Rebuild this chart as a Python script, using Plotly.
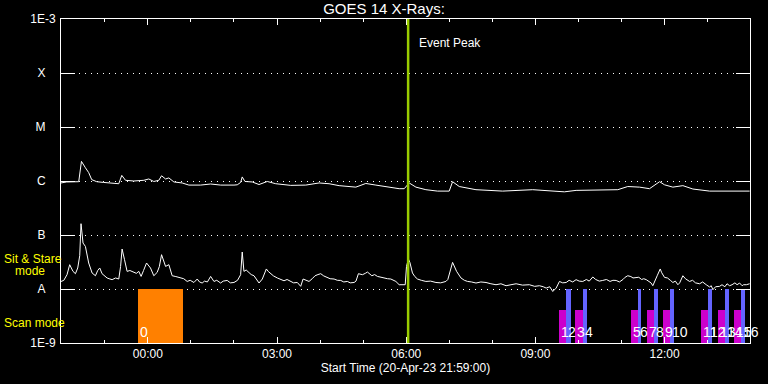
import pandas as pd
import plotly.graph_objects as go

# ---------------- data ----------------
START = pd.Timestamp("2023-04-20 21:59:00")
END = START + pd.Timedelta(hours=16)

# long channel (1-8 A), minutes after start time
long_minutes = [0, 8, 24.7, 28.5, 34, 38.6, 42.8, 49.8, 59.6, 70.7, 80.5, 84.7, 89.9, 101.4,
                115.4, 122.3, 129.3, 136.3, 140.1, 145.7, 150.3, 157.3, 168.8, 178.2, 194.5,
                208.5, 222.4, 241, 245.6, 250.3, 252.5, 256.3, 266.5, 275.9, 287.4, 299.2,
                320.1, 341, 359.6, 373.5, 387.5, 410.8, 424.7, 438.7, 454.9, 471.2, 478.2,
                485.2, 494.5, 508.4, 524.6, 540.9, 545.6, 554.9, 578.2, 615.3, 657.2, 701.4,
                717.7, 759.6, 775.8, 789.7, 806.1, 820, 834, 840.9, 852.5, 866.5, 880.4,
                903.7, 959.5]
long_flux = [9.2e-7, 9.6e-7, 9.7e-7, 2.31e-6, 1.76e-6, 1.43e-6, 1.06e-6, 9.7e-7, 9.4e-7, 9.2e-7,
             8.9e-7, 1.27e-6, 1.03e-6, 1.0e-6, 1.03e-6, 1.09e-6, 9.8e-7, 1.03e-6, 1.25e-6,
             1.09e-6, 1.14e-6, 9.6e-7, 9.2e-7, 8.4e-7, 8.4e-7, 8.8e-7, 8.4e-7, 8.4e-7, 8.5e-7,
             9.4e-7, 1.19e-6, 9.8e-7, 9.6e-7, 8.6e-7, 9.8e-7, 8.9e-7, 8.3e-7, 8.4e-7, 9.2e-7,
             8.9e-7, 8.2e-7, 7.7e-7, 9.0e-7, 8.4e-7, 7.7e-7, 7.2e-7, 7.2e-7, 9.2e-7, 7.7e-7,
             6.9e-7, 6.5e-7, 6.5e-7, 9.7e-7, 7.9e-7, 6.9e-7, 6.5e-7, 6.9e-7, 6.3e-7, 6.7e-7,
             6.9e-7, 6.9e-7, 7.9e-7, 7.7e-7, 7.2e-7, 9.7e-7, 8.5e-7, 7.7e-7, 8.2e-7, 7.1e-7,
             6.5e-7, 6.5e-7]

# short channel (0.5-4 A), minutes after start time
short_minutes = [0, 3.8, 8.4, 12.1, 16.7, 20.1, 23.3, 26.1, 27.9, 29.3, 30.7, 34, 38.6, 43.3, 48,
                 51.2, 54, 57.2, 60.5, 64.2, 67, 71.2, 76, 80.5, 83, 85.1, 88.5, 92.1, 96, 101.4,
                 105, 108.4, 111.6, 115, 119.2, 124.7, 129.3, 134, 137, 140.1, 145.7, 150.3,
                 154.9, 160, 166.6, 171, 175.8, 180, 185.2, 189.8, 193, 196.7, 200, 204, 208.5,
                 213.1, 217, 222.4, 226, 231.6, 236, 241, 246, 250.3, 252.5, 254.9, 258, 261.9,
                 265, 268.9, 272, 275.9, 280.5, 283, 286.1, 289, 292.2, 296, 301.4, 306, 310.7,
                 315, 320.1, 324, 329.3, 334, 337.3, 341, 345.6, 350, 354, 358, 361.9, 366,
                 371.1, 375, 380.5, 385, 389.8, 394, 399, 403, 408.4, 411, 414.4, 420, 424, 427,
                 433.1, 437, 440.9, 445, 450.3, 455, 459.6, 463, 466.6, 471.2, 479.6, 481.4, 484,
                 486.1, 489.7, 493, 496.7, 502, 508.4, 515, 522.4, 529, 536.3, 539, 541.9,
                 545.6, 551.2, 557.3, 562, 566.5, 572, 578.2, 585, 592.2, 599, 606.1, 613,
                 620.1, 627, 634.1, 643, 652.6, 660, 666.6, 672, 676, 681, 685.2, 689.9, 692,
                 694.5, 699, 703.9, 708, 713, 717.7, 722, 727, 732, 736, 741, 745, 750, 754.8,
                 760, 765, 769, 773.5, 778, 783, 786, 789.7, 794, 797, 801.5, 805, 809, 812,
                 815.4, 819, 822, 824.6, 828, 831, 834.9, 837, 840.9, 845, 849, 852.5, 856,
                 859.5, 862, 866.5, 870, 875.8, 880, 884, 889.8, 894, 899, 903.7, 906, 908.3,
                 912, 917.6, 921, 925, 928, 931.6, 935, 939, 942, 945.5, 949, 951, 954.9, 959.5]
short_flux = [1.38e-8, 1.44e-8, 1.84e-8, 2.82e-8, 2.12e-8, 1.92e-8, 2.45e-8, 4.14e-8, 1.62e-7,
              1.1e-7, 7.1e-8, 6.15e-8, 3.03e-8, 1.98e-8, 1.76e-8, 2.21e-8, 2.45e-8, 1.92e-8,
              1.75e-8, 1.6e-8, 1.55e-8, 1.49e-8, 1.6e-8, 1.53e-8, 2.6e-8, 5.5e-8, 3.49e-8,
              2.12e-8, 2.2e-8, 2.03e-8, 1.95e-8, 2.12e-8, 1.71e-8, 2.2e-8, 3.03e-8, 2.45e-8,
              1.76e-8, 2.03e-8, 2.6e-8, 4.32e-8, 2.62e-8, 2.82e-8, 1.76e-8, 1.7e-8, 1.6e-8,
              1.55e-8, 1.38e-8, 1.45e-8, 1.32e-8, 1.53e-8, 1.35e-8, 1.29e-8, 1.4e-8, 1.35e-8,
              1.71e-8, 1.38e-8, 1.45e-8, 1.29e-8, 1.4e-8, 1.44e-8, 1.3e-8, 1.32e-8, 1.45e-8,
              1.84e-8, 4.84e-8, 2.12e-8, 2.25e-8, 1.98e-8, 1.85e-8, 1.76e-8, 1.5e-8, 1.29e-8,
              1.53e-8, 1.8e-8, 2.35e-8, 2.1e-8, 1.92e-8, 1.75e-8, 1.6e-8, 1.5e-8, 1.42e-8,
              1.5e-8, 1.38e-8, 1.3e-8, 1.32e-8, 1.12e-8, 1.53e-8, 1.45e-8, 1.38e-8, 1.55e-8,
              1.76e-8, 1.85e-8, 1.92e-8, 1.75e-8, 1.64e-8, 1.55e-8, 1.53e-8, 1.45e-8, 1.44e-8,
              1.35e-8, 1.38e-8, 1.3e-8, 1.32e-8, 1.4e-8, 1.92e-8, 1.84e-8, 1.95e-8, 2.06e-8,
              1.76e-8, 1.85e-8, 1.71e-8, 1.65e-8, 1.6e-8, 1.55e-8, 1.53e-8, 1.45e-8, 1.38e-8,
              1.2e-8, 1.2e-8, 2.62e-8, 3.6e-8, 3.11e-8, 1.98e-8, 1.7e-8, 1.53e-8, 1.45e-8,
              1.38e-8, 1.4e-8, 1.32e-8, 1.3e-8, 1.38e-8, 1.5e-8, 1.98e-8, 3.11e-8, 2.12e-8,
              1.6e-8, 1.45e-8, 1.38e-8, 1.35e-8, 1.29e-8, 1.35e-8, 1.32e-8, 1.25e-8, 1.2e-8,
              1.25e-8, 1.15e-8, 1.2e-8, 1.25e-8, 1.18e-8, 1.2e-8, 1.12e-8, 1.15e-8, 1.1e-8,
              1.04e-8, 1.1e-8, 9.0e-9, 1.04e-8, 1.2e-8, 1.38e-8, 1.3e-8, 1.32e-8, 1.45e-8,
              1.35e-8, 1.49e-8, 1.4e-8, 1.38e-8, 1.5e-8, 1.4e-8, 1.67e-8, 1.5e-8, 1.4e-8,
              1.44e-8, 1.5e-8, 1.38e-8, 1.45e-8, 1.44e-8, 1.35e-8, 1.5e-8, 1.65e-8, 1.76e-8,
              1.7e-8, 1.6e-8, 1.6e-8, 1.65e-8, 1.5e-8, 1.55e-8, 1.49e-8, 1.4e-8, 1.3e-8,
              1.15e-8, 1.5e-8, 1.8e-8, 2.35e-8, 2.0e-8, 1.64e-8, 1.6e-8, 1.45e-8, 1.32e-8,
              1.4e-8, 1.2e-8, 1.3e-8, 1.76e-8, 1.55e-8, 1.38e-8, 1.45e-8, 1.3e-8, 1.25e-8,
              1.35e-8, 1.2e-8, 1.09e-8, 1.15e-8, 9.7e-9, 1.1e-8, 1.12e-8, 1.2e-8, 1.1e-8,
              1.25e-8, 1.15e-8, 1.2e-8, 1.3e-8, 1.2e-8, 1.29e-8, 1.15e-8, 1.2e-8, 1.2e-8,
              1.25e-8]

# y-axis ticks (GOES classes)
y_tickvals = [1e-9, 1e-8, 1e-7, 1e-6, 1e-5, 1e-4, 1e-3]
y_ticktext = ["1E-9", "A", "B", "C", "M", "X", "1E-3"]

# observation scans
scan_labels = [str(i) for i in range(17)]
scan_kind = ["stare"] + ["raster", "sit"] * 8
scan_start = ["2023-04-20 23:46:00",
              "2023-04-21 09:33:30", "2023-04-21 09:43:12",
              "2023-04-21 09:55:48", "2023-04-21 10:06:36",
              "2023-04-21 11:12:30", "2023-04-21 11:22:18",
              "2023-04-21 11:34:48", "2023-04-21 11:45:48",
              "2023-04-21 11:58:12", "2023-04-21 12:08:00",
              "2023-04-21 12:50:12", "2023-04-21 13:00:42",
              "2023-04-21 13:13:54", "2023-04-21 13:23:42",
              "2023-04-21 13:36:12", "2023-04-21 13:46:54"]
scan_end = ["2023-04-21 00:49:00",
            "2023-04-21 09:43:12", "2023-04-21 09:49:06",
            "2023-04-21 10:06:00", "2023-04-21 10:11:54",
            "2023-04-21 11:22:18", "2023-04-21 11:27:12",
            "2023-04-21 11:45:00", "2023-04-21 11:51:24",
            "2023-04-21 12:08:00", "2023-04-21 12:13:18",
            "2023-04-21 13:00:24", "2023-04-21 13:06:18",
            "2023-04-21 13:23:42", "2023-04-21 13:29:06",
            "2023-04-21 13:46:24", "2023-04-21 13:52:24"]
scan_top = {"stare": 1e-8, "raster": 4.1e-9, "sit": 1e-8}

event_peak = "2023-04-21 06:02:40"

# ---------------- figure ----------------
FONT = "Liberation Sans"
WHITE = "#ffffff"
YELLOW = "#ffff00"
kind_color = {"stare": "#ff8000", "raster": "#cc00cc", "sit": "#6464ff"}

long_t = [START + pd.Timedelta(minutes=m) for m in long_minutes]
short_t = [START + pd.Timedelta(minutes=m) for m in short_minutes]

fig = go.Figure()

# scan bars
for kind in ["stare", "raster", "sit"]:
    idx = [i for i, k in enumerate(scan_kind) if k == kind]
    s = [pd.Timestamp(scan_start[i]) for i in idx]
    e = [pd.Timestamp(scan_end[i]) for i in idx]
    centers = [a + (b - a) / 2 for a, b in zip(s, e)]
    widths = [(b - a).total_seconds() * 1000 for a, b in zip(s, e)]
    fig.add_trace(go.Bar(
        x=centers, y=[scan_top[kind] - 1e-9] * len(idx), base=[1e-9] * len(idx),
        width=widths, marker=dict(color=kind_color[kind], line=dict(width=0)),
        showlegend=False, hoverinfo="skip"))

fig.add_trace(go.Scatter(x=long_t, y=long_flux, mode="lines",
                         line=dict(color=WHITE, width=1), showlegend=False))
fig.add_trace(go.Scatter(x=short_t, y=short_flux, mode="lines",
                         line=dict(color=WHITE, width=1), showlegend=False))

# event peak line
fig.add_shape(type="line", x0=event_peak, x1=event_peak, xref="x",
              y0=0, y1=1, yref="paper", line=dict(color="#99cc00", width=2.5))
fig.add_annotation(x=event_peak, xref="x", xshift=9, xanchor="left",
                   y=0.927, yref="paper", yanchor="middle", text="Event Peak",
                   showarrow=False, font=dict(family=FONT, size=12, color=WHITE))

# scan number labels
for lab, st in zip(scan_labels, scan_start):
    fig.add_annotation(x=st, xref="x", xanchor="left", y=0.033, yref="paper",
                       yanchor="middle", text=lab, showarrow=False,
                       font=dict(family=FONT, size=14, color=WHITE))

# mode labels
for txt, xp, yp in [("Sit & Stare", -0.0856, 0.260), ("mode", -0.0697, 0.223),
                    ("Scan mode", -0.0856, 0.061)]:
    fig.add_annotation(x=xp, xref="paper", xanchor="left", y=yp, yref="paper",
                       yanchor="middle", text=txt, showarrow=False,
                       font=dict(family=FONT, size=12, color=YELLOW))

nb = "\u00a0"
ytext = [t if len(t) > 1 else t + nb * 3 for t in y_ticktext]

fig.update_layout(
    width=768, height=384,
    margin=dict(l=61, r=18, t=19, b=41, autoexpand=False),
    paper_bgcolor="black", plot_bgcolor="black",
    barmode="overlay", bargap=0,
    font=dict(family=FONT, size=12, color=WHITE),
    title=dict(text="GOES 14 X-Rays:", x=0.5, xref="container", xanchor="center",
               y=1 - 9 / 384, yref="container", yanchor="middle",
               font=dict(family=FONT, size=15, color=WHITE)),
    xaxis=dict(type="date", range=[START, END], showgrid=False, automargin=False,
               showline=True, linecolor=WHITE, linewidth=1, mirror="ticks",
               ticks="inside", ticklen=6, tickwidth=1, tickcolor=WHITE,
               tick0="2023-04-21 00:00", dtick=3 * 3600 * 1000, tickformat="%H:%M",
               tickfont=dict(family=FONT, size=12, color=WHITE),
               minor=dict(ticks="inside", ticklen=3, tickcolor=WHITE,
                          dtick=3600 * 1000, showgrid=False),
               title=dict(text="Start Time (20-Apr-23 21:59:00)", standoff=2,
                          font=dict(family=FONT, size=12, color=WHITE)),
               zeroline=False),
    yaxis=dict(type="log", range=[-9, -3], tickvals=y_tickvals, ticktext=ytext,
               automargin=False,
               showline=True, linecolor=WHITE, linewidth=1, mirror="ticks",
               ticks="inside", ticklen=14, tickwidth=1, tickcolor=WHITE,
               showgrid=True, gridcolor=WHITE, gridwidth=1, griddash="1px,5px",
               tickfont=dict(family=FONT, size=12, color=WHITE),
               ticklabelstandoff=2, zeroline=False),
)

fig.write_html(
    "out.html",
    config={"displayModeBar": False},
    post_script="document.body.style.margin='0';document.body.style.padding='0';"
                "document.body.style.background='black';",
)
